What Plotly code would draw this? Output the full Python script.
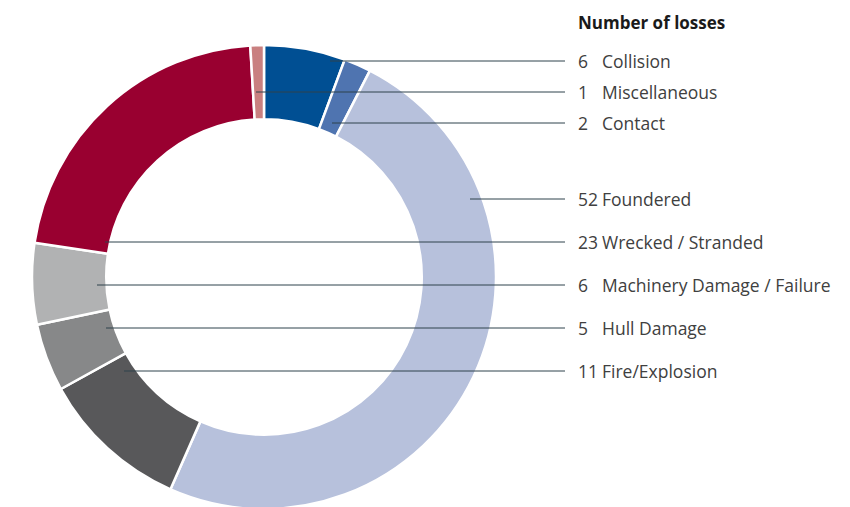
import plotly.graph_objects as go

# losses by cause, clockwise from 12 o'clock
causes = ['Collision', 'Contact', 'Foundered', 'Fire/Explosion', 'Hull Damage',
          'Machinery Damage / Failure', 'Wrecked / Stranded', 'Miscellaneous']
losses = [6, 2, 52, 11, 5, 6, 23, 1]
colors = ['#004f93', '#4f74b0', '#b7c1dc', '#58585a', '#878889',
          '#b1b2b3', '#990030', '#c98080']

# label order on the right-hand side
label_order = ['Collision', 'Miscellaneous', 'Contact', 'Foundered',
               'Wrecked / Stranded', 'Machinery Damage / Failure',
               'Hull Damage', 'Fire/Explosion']

W, H = 850, 507
OFF = 8  # page body margin


def px(x):
    return (x - OFF) / W


def py(y):
    return 1 - (y - OFF) / H


fig = go.Figure()
fig.add_trace(go.Pie(labels=causes,
                     values=losses,
                     sort=False,
                     direction='clockwise',
                     rotation=0,
                     hole=0.68,
                     marker=dict(colors=colors, line=dict(color='white', width=2.5)),
                     textinfo='none',
                     hoverinfo='label+value',
                     showlegend=False,
                     domain=dict(x=[px(32), px(496)], y=[py(509), py(45)])))

# leader line starts (inside the slices) and label rows
line_start = {'Collision': (330, 61), 'Miscellaneous': (256, 92),
              'Contact': (332, 123), 'Foundered': (470, 199),
              'Wrecked / Stranded': (105, 242),
              'Machinery Damage / Failure': (97, 285),
              'Hull Damage': (106, 328), 'Fire/Explosion': (124, 371)}

font = dict(family='Open Sans, Noto Sans, sans-serif', size=17.5, color='#404040')
for name in label_order:
    x0, y0 = line_start[name]
    fig.add_shape(type='line', xref='paper', yref='paper',
                  x0=px(x0), y0=py(y0), x1=px(565), y1=py(y0),
                  line=dict(color='#2e434c', width=1))
    n = losses[causes.index(name)]
    fig.add_annotation(x=px(576), y=py(y0), xref='paper', yref='paper',
                       text=str(n), showarrow=False, xanchor='left',
                       yanchor='middle', font=font)
    fig.add_annotation(x=px(600), y=py(y0), xref='paper', yref='paper',
                       text=name, showarrow=False, xanchor='left',
                       yanchor='middle', font=font)

fig.add_annotation(x=px(576), y=py(22), xref='paper', yref='paper',
                   text='<b>Number of losses</b>', showarrow=False,
                   xanchor='left', yanchor='middle',
                   font=dict(family='Open Sans, Noto Sans, sans-serif', size=17,
                             color='#1a1a1a'))

fig.update_layout(width=W, height=H,
                  margin=dict(l=0, r=0, t=0, b=0),
                  paper_bgcolor='white',
                  plot_bgcolor='white')

fig.write_html("out.html")
